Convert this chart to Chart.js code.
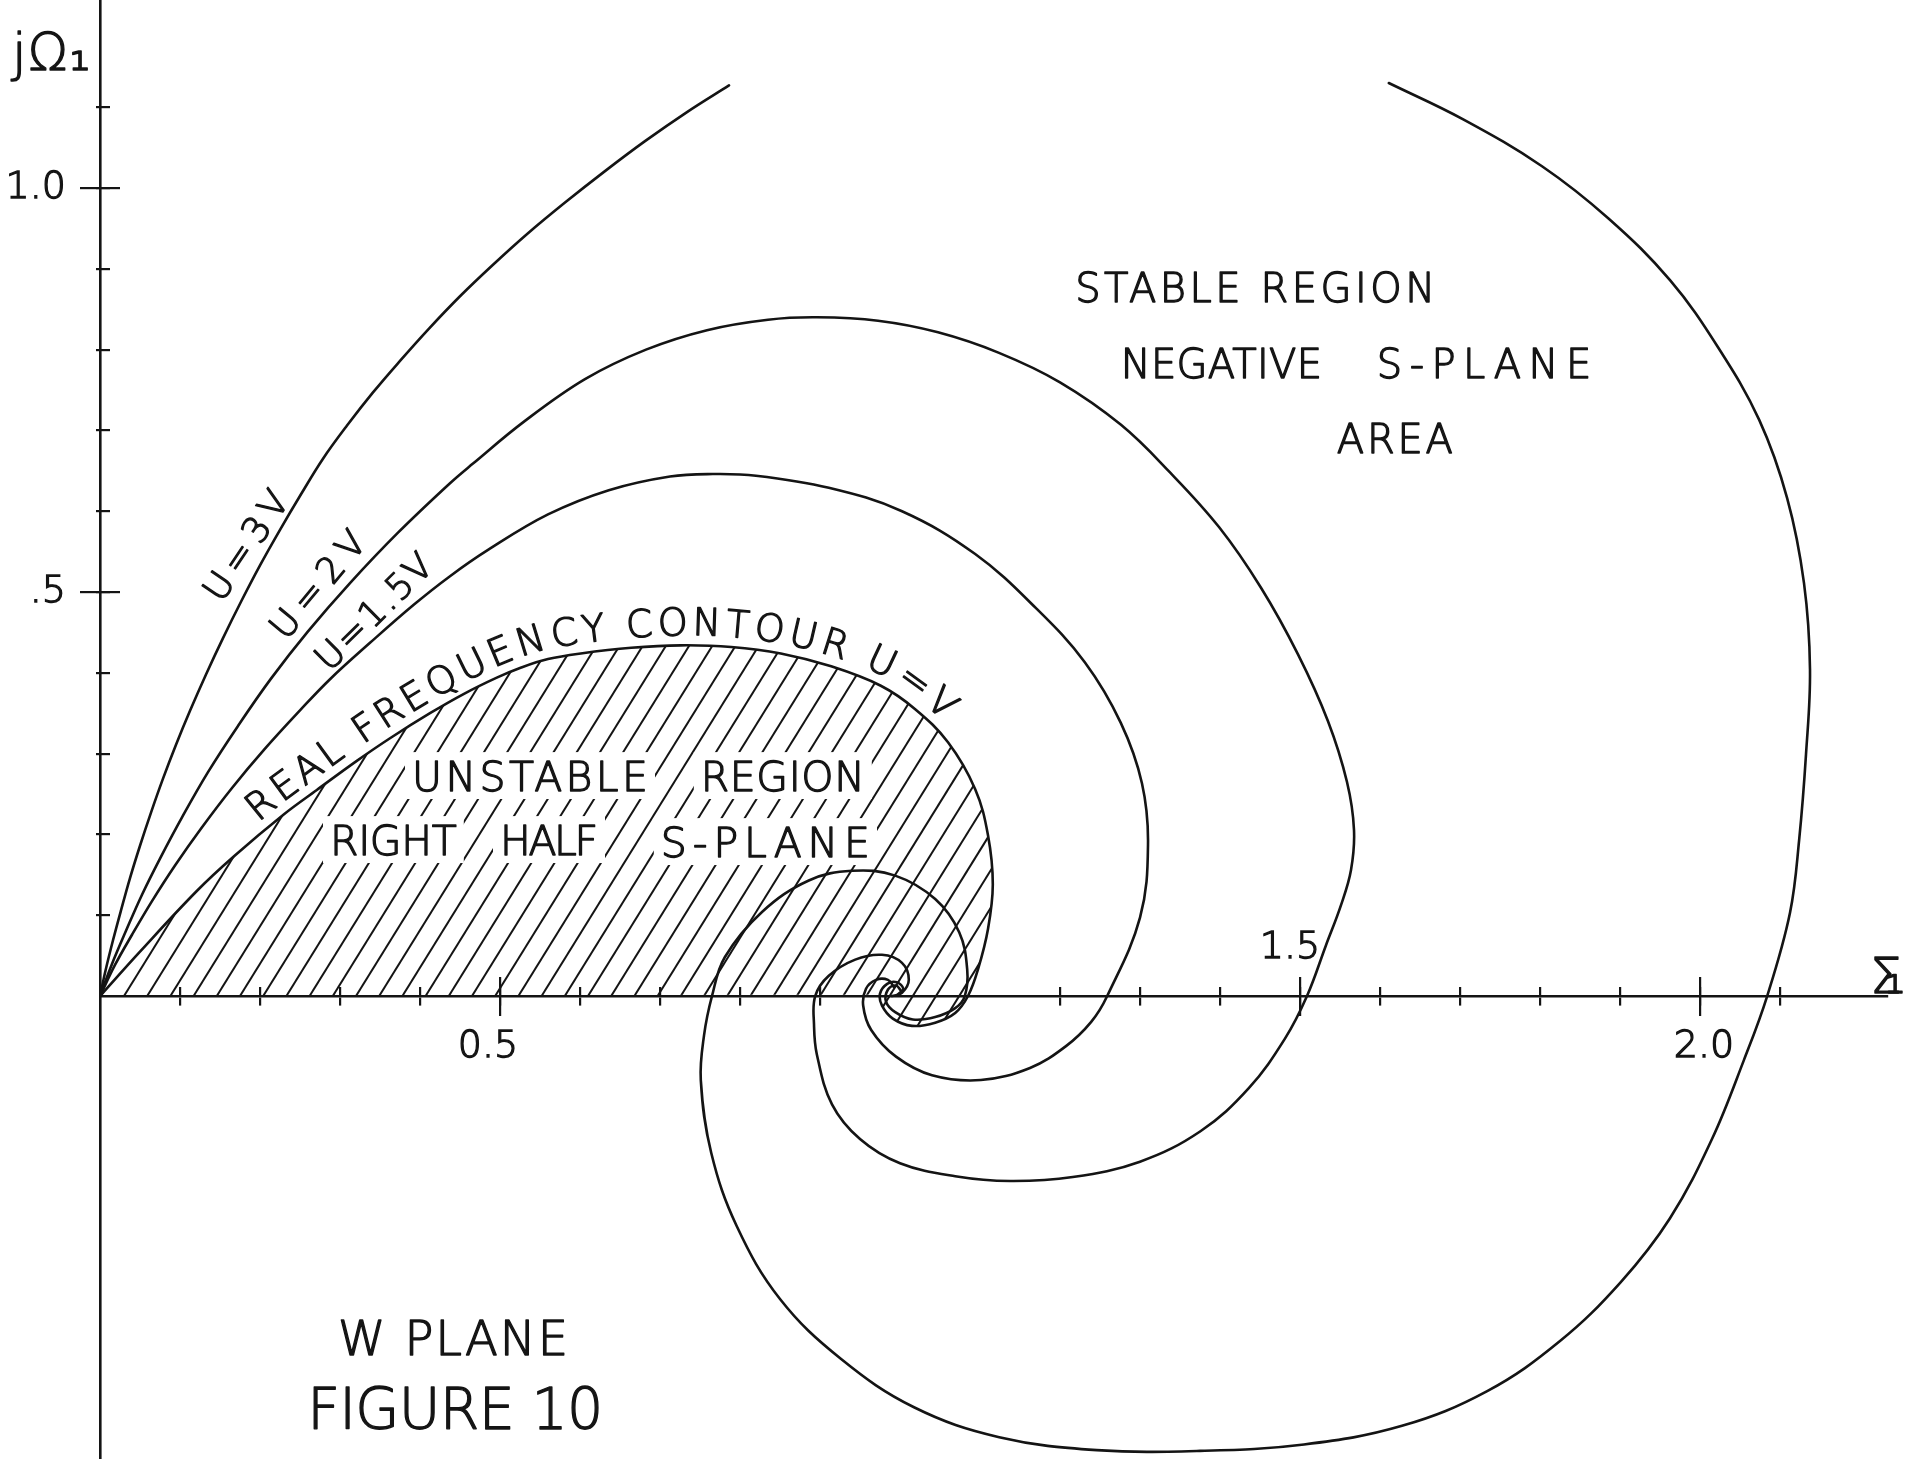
<!DOCTYPE html>
<html lang="en">
<head>
<meta charset="utf-8">
<title>W plane – Figure 10</title>
<script src="https://cdn.jsdelivr.net/npm/chart.js@4.4.1/dist/chart.umd.min.js"></script>
<style>
  html, body { margin: 0; padding: 0; background: #ffffff; }
  #frame { position: relative; width: 1911px; height: 1459px; }
  canvas { display: block; }
</style>
</head>
<body>
<div id="frame"><canvas id="wplane"></canvas></div>
<script>
// ---------------------------------------------------------------
// W plane: constant U/V contours, Σ₁ horizontal, jΩ₁ vertical
// ---------------------------------------------------------------
const INK = '#141414';
const FAMILY = '"DejaVu Sans", "Liberation Sans", Arial, sans-serif';
const WEIGHT = '300';
const PEN = 1.3;          // extra pen width added round the light lettering

// visible extent of the plane
const SIGMA_MIN = 0, SIGMA_MAX = 2.23375;
const OMEGA_MIN = -0.573, OMEGA_MAX = 1.2327;

// axis divisions and tick labels
const SIGMA_MINOR = [0.1, 0.2, 0.3, 0.4, 0.6, 0.7, 0.8, 0.9, 1.2, 1.3, 1.4, 1.6, 1.7, 1.8, 1.9, 2.1];
const SIGMA_MAJOR = [0.5, 1.5, 2.0];
const SIGMA_LABELED_BELOW = [0.5, 2.0];
const SIGMA_LABELED_ABOVE = [1.5];
const OMEGA_MINOR = [0.1, 0.2, 0.3, 0.4, 0.6, 0.7, 0.8, 0.9, 1.1];
const OMEGA_MAJOR = [0.5, 1.0];
const OMEGA_TICK_TEXT = ['.5', '1.0'];

// U = V : real frequency contour
const UV_SIGMA = [0, 0.05, 0.121, 0.1675, 0.23, 0.271, 0.321, 0.3625, 0.4125, 0.455, 0.496, 0.525, 0.56, 0.601, 0.664, 0.726, 0.789, 0.851, 0.914, 0.976, 1.019, 1.06, 1.094, 1.11, 1.116, 1.11, 1.0975, 1.085, 1.069, 1.044, 1.015, 0.991, 0.9775, 0.975, 0.984, 0.996, 1.004, 0.9975];
const UV_OMEGA = [0, 0.055, 0.130, 0.173, 0.225, 0.255, 0.291, 0.319, 0.350, 0.374, 0.394, 0.406, 0.417, 0.424, 0.431, 0.434, 0.432, 0.424, 0.408, 0.384, 0.355, 0.314, 0.256, 0.199, 0.138, 0.083, 0.033, 0, -0.021, -0.033, -0.037, -0.028, -0.012, 0.003, 0.015, 0.017, 0.009, 0.002];

// U = 1.5V
const U15_SIGMA = [0, 0.01875, 0.04, 0.065, 0.09375, 0.1275, 0.165, 0.20625, 0.25, 0.2875, 0.3375, 0.3925, 0.4375, 0.485, 0.56, 0.636, 0.7125, 0.766, 0.82, 0.911, 1.0025, 1.094, 1.17, 1.231, 1.276, 1.3025, 1.31, 1.3, 1.259, 1.239, 1.2075, 1.1625, 1.101, 1.04, 0.995, 0.964, 0.954, 0.9575, 0.97, 0.985, 0.9925];
const U15_OMEGA = [0, 0.0385, 0.0758, 0.1175, 0.1616, 0.2089, 0.2575, 0.3061, 0.3535, 0.3921, 0.4371, 0.4845, 0.5196, 0.5521, 0.596, 0.626, 0.643, 0.646, 0.644, 0.629, 0.600, 0.547, 0.480, 0.413, 0.338, 0.263, 0.187, 0.097, 0, -0.032, -0.062, -0.089, -0.104, -0.098, -0.075, -0.042, -0.012, 0.009, 0.020, 0.020, 0.011];

// U = 2V
const U2_SIGMA = [0, 0.015, 0.0325, 0.0525, 0.075, 0.1025, 0.135, 0.1725, 0.21375, 0.26, 0.3125, 0.3725, 0.4375, 0.46625, 0.53, 0.60625, 0.6825, 0.75875, 0.835, 0.89625, 0.9725, 1.0475, 1.12375, 1.2, 1.27625, 1.3375, 1.39875, 1.45125, 1.4975, 1.535, 1.55875, 1.5675, 1.56375, 1.55125, 1.5325, 1.50875, 1.481, 1.436, 1.376, 1.3, 1.216, 1.1375, 1.069, 1.0, 0.95, 0.915, 0.896, 0.8925, 0.894, 0.911, 0.944, 0.9775, 1.0025, 1.011, 1.0025, 0.99];
const U2_OMEGA = [0, 0.0397, 0.0807, 0.1254, 0.1701, 0.2211, 0.2771, 0.3343, 0.3928, 0.4513, 0.5111, 0.5735, 0.6347, 0.659, 0.7109, 0.7635, 0.800, 0.8241, 0.837, 0.840, 0.8357, 0.8214, 0.796, 0.7595, 0.7069, 0.648, 0.5804, 0.5053, 0.4228, 0.3401, 0.2648, 0.2055, 0.156, 0.1125, 0.0629, 0, -0.053, -0.114, -0.167, -0.205, -0.224, -0.229, -0.223, -0.207, -0.177, -0.134, -0.072, -0.035, 0, 0.025, 0.045, 0.051, 0.041, 0.020, 0.004, 0];

// U = 3V, branch leaving the origin (runs off the top of the sheet)
const U3A_SIGMA = [0, 0.0075, 0.01625, 0.02625, 0.0375, 0.05, 0.06375, 0.07875, 0.095, 0.1125, 0.1325, 0.15375, 0.17625, 0.2, 0.225, 0.25125, 0.27875, 0.30875, 0.34125, 0.375, 0.41125, 0.45, 0.49125, 0.535, 0.58125, 0.63, 0.68125, 0.73375, 0.78625];
const U3A_OMEGA = [0, 0.034, 0.069, 0.106, 0.146, 0.186, 0.227, 0.269, 0.311, 0.353, 0.398, 0.443, 0.488, 0.533, 0.577, 0.621, 0.665, 0.706, 0.747, 0.786, 0.826, 0.866, 0.905, 0.944, 0.982, 1.020, 1.058, 1.094, 1.127];

// U = 3V, branch coming back in from the top and spiralling to the centre
const U3B_SIGMA = [1.611, 1.704, 1.8025, 1.886, 1.9625, 2.0225, 2.074, 2.109, 2.13, 2.1375, 2.1325, 2.124, 2.1125, 2.084, 2.055, 2.015, 1.9625, 1.901, 1.825, 1.734, 1.6275, 1.505, 1.375, 1.246, 1.124, 1.0175, 0.926, 0.85, 0.796, 0.764, 0.751, 0.755, 0.765, 0.781, 0.8275, 0.886, 0.94, 0.994, 1.044, 1.074, 1.084, 1.081, 1.069, 1.044, 1.016, 0.994, 0.9825, 0.985, 0.995, 1.001];
const U3B_OMEGA = [1.130, 1.085, 1.027, 0.962, 0.886, 0.803, 0.713, 0.616, 0.511, 0.404, 0.299, 0.194, 0.103, 0, -0.079, -0.177, -0.275, -0.354, -0.427, -0.489, -0.532, -0.555, -0.563, -0.562, -0.546, -0.509, -0.449, -0.375, -0.285, -0.194, -0.104, -0.049, 0, 0.048, 0.104, 0.143, 0.155, 0.149, 0.120, 0.079, 0.033, 0, -0.015, -0.026, -0.029, -0.020, -0.007, 0.008, 0.013, 0.007];

// lettering, anchored in plane coordinates (from / to along Σ, baseline in Ω)
const LETTERING = [
  {text: 'STABLE REGION', from: 1.219, to: 1.669, base: 0.859, size: 40},
  {text: 'NEGATIVE', from: 1.276, to: 1.5275, base: 0.765, size: 40},
  {text: 'S-PLANE', from: 1.596, to: 1.864, base: 0.765, size: 40},
  {text: 'AREA', from: 1.546, to: 1.691, base: 0.672, size: 40},
  {text: 'UNSTABLE', from: 0.39, to: 0.685, base: 0.2537, size: 41, knockout: true},
  {text: 'REGION', from: 0.751, to: 0.956, base: 0.2537, size: 41, knockout: true},
  {text: 'RIGHT', from: 0.2875, to: 0.446, base: 0.1745, size: 41, knockout: true},
  {text: 'HALF', from: 0.5, to: 0.6225, base: 0.1745, size: 41, knockout: true},
  {text: 'S-PLANE', from: 0.701, to: 0.9625, base: 0.172, size: 41, knockout: true},
  {text: 'W PLANE', from: 0.2975, to: 0.585, base: -0.4443, size: 48},
  {text: 'FIGURE 10', from: 0.259, to: 0.629, base: -0.5359, size: 57}
];
// contour tags written along their curves (centre point, angle in degrees, length in px)
const CURVE_TAGS = [
  {text: 'U=3V', at: [0.18125, 0.5582], angle: -56.2, length: 124, size: 36},
  {text: 'U=2V', at: [0.27125, 0.5099], angle: -50.1, length: 128, size: 36},
  {text: 'U=1.5V', at: [0.34125, 0.4765], angle: -44.7, length: 149, size: 36}
];
const CONTOUR_TITLE = {text: 'REAL FREQUENCY CONTOUR U=V', from: 0.2025, to: 1.044, offset: 10, size: 38};
const AXIS_TITLES = [
  {text: 'jΩ₁', from: -0.11, to: -0.0125, base: 1.146, size: 52},
  {text: 'Σ₁', from: 2.2125, to: 2.256, base: 0.0037, size: 50}
];

const HATCH = {phase: 0.03, gap: 23.2, run: 0.62, width: 2};
const AXIS_WIDTH = 2.6, TICK_WIDTH = 2.2;

// ---------------------------------------------------------------
const points = (s, w) => s.map((x, i) => ({x, y: w[i]}));
const contour = (label, data) => ({
  label, data, xAxisID: 'x', yAxisID: 'y',
  borderColor: INK, borderWidth: 2.6, borderJoinStyle: 'round', borderCapStyle: 'round',
  pointRadius: 0, pointHoverRadius: 0, tension: 0.38, fill: false
});

function flatten(scale, dim, size) {
  scale[dim] = size;
  scale.paddingLeft = scale.paddingRight = scale.paddingTop = scale.paddingBottom = 0;
}

const tickFont = {family: FAMILY, size: 38, weight: WEIGHT};

function sigmaScale({ticks, len = 0, labels = null, pad = 0, shift = 0, border = false}) {
  return {
    type: 'linear', axis: 'x', position: {y: 0}, min: SIGMA_MIN, max: SIGMA_MAX,
    afterBuildTicks: s => { s.ticks = ticks.map(value => ({value})); },
    afterFit: s => flatten(s, 'height', 0),
    border: {display: border, color: INK, width: AXIS_WIDTH},
    grid: {display: len !== 0, drawOnChartArea: false, drawTicks: len !== 0, tickLength: len,
           color: INK, tickColor: INK, tickWidth: TICK_WIDTH, lineWidth: TICK_WIDTH},
    ticks: {display: !!labels, autoSkip: false, maxRotation: 0, minRotation: 0, padding: pad, labelOffset: shift,
            color: INK, textStrokeColor: INK, textStrokeWidth: PEN, font: tickFont,
            callback: (v, i) => (labels ? labels[i] : '')}
  };
}

function omegaScale({ticks, len = 0, position = {x: 0}, labels = null, pad = 0, border = false}) {
  return {
    type: 'linear', axis: 'y', position, min: OMEGA_MIN, max: OMEGA_MAX,
    afterBuildTicks: s => { s.ticks = ticks.map(value => ({value})); },
    afterFit: s => flatten(s, 'width', position === 'left' ? 100 : 0),
    border: {display: border, color: INK, width: AXIS_WIDTH},
    grid: {display: len !== 0, drawOnChartArea: false, drawTicks: len !== 0, tickLength: len,
           color: INK, tickColor: INK, tickWidth: TICK_WIDTH, lineWidth: TICK_WIDTH},
    ticks: {display: !!labels, autoSkip: false, padding: pad, crossAlign: 'near',
            color: INK, textStrokeColor: INK, textStrokeWidth: PEN, font: tickFont,
            callback: (v, i) => (labels ? labels[i] : '')}
  };
}

// dense polyline following the drawn (bezier) contour
function tracePoints(els, steps) {
  const out = [{x: els[0].x, y: els[0].y}];
  for (let i = 1; i < els.length; i++) {
    const a = els[i - 1], b = els[i];
    const c1x = a.cp2x ?? a.x, c1y = a.cp2y ?? a.y, c2x = b.cp1x ?? b.x, c2y = b.cp1y ?? b.y;
    for (let k = 1; k <= steps; k++) {
      const t = k / steps, u = 1 - t;
      out.push({
        x: u * u * u * a.x + 3 * u * u * t * c1x + 3 * u * t * t * c2x + t * t * t * b.x,
        y: u * u * u * a.y + 3 * u * u * t * c1y + 3 * u * t * t * c2y + t * t * t * b.y
      });
    }
  }
  return out;
}

function contourPath(chart) {
  const meta = chart.getDatasetMeta(0);
  if (meta.dataset && meta.dataset.updateControlPoints) meta.dataset.updateControlPoints(chart.chartArea, 'x');
  return tracePoints(meta.data, 16);
}

const canSpace = 'letterSpacing' in CanvasRenderingContext2D.prototype;
const fontOf = size => `${WEIGHT} ${size}px ${FAMILY}`;

function pen(ctx) {
  ctx.strokeStyle = INK;
  ctx.lineWidth = PEN;
  ctx.lineJoin = 'round';
}

function spacedText(ctx, text, x0, x1, base, size) {
  ctx.font = fontOf(size);
  ctx.textAlign = 'left';
  ctx.textBaseline = 'alphabetic';
  pen(ctx);
  const chars = Array.from(text);
  if (canSpace) ctx.letterSpacing = '0px';
  const w0 = ctx.measureText(text).width;
  const gap = chars.length > 1 ? (x1 - x0 - w0) / (chars.length - 1) : 0;
  if (canSpace) {
    ctx.letterSpacing = gap.toFixed(2) + 'px';
    ctx.strokeText(text, x0, base);
    ctx.fillText(text, x0, base);
    ctx.letterSpacing = '0px';
  } else {
    let x = x0;
    for (const c of chars) {
      ctx.strokeText(c, x, base);
      ctx.fillText(c, x, base);
      x += ctx.measureText(c).width + gap;
    }
  }
}

function wordBox(chart, w) {
  const {x, y} = chart.scales;
  const base = y.getPixelForValue(w.base);
  const cap = 0.73 * w.size;
  return {x0: x.getPixelForValue(w.from) - 7, x1: x.getPixelForValue(w.to) + 7, y0: base - cap - 9, y1: base + 8};
}

function pointAt(path, cum, s) {
  let i = 1;
  while (i < cum.length - 1 && cum[i] < s) i++;
  const a = path[i - 1], b = path[i];
  const t = (s - cum[i - 1]) / ((cum[i] - cum[i - 1]) || 1);
  return {x: a.x + (b.x - a.x) * t, y: a.y + (b.y - a.y) * t};
}

function textAlong(chart, path, spec) {
  const {ctx, scales: {x}} = chart;
  const cum = [0];
  for (let i = 1; i < path.length; i++) {
    cum.push(cum[i - 1] + Math.hypot(path[i].x - path[i - 1].x, path[i].y - path[i - 1].y));
  }
  const arcAt = px => cum[Math.max(0, path.findIndex(p => p.x >= px))];
  const s0 = arcAt(x.getPixelForValue(spec.from));
  const s1 = arcAt(x.getPixelForValue(spec.to));
  ctx.font = fontOf(spec.size);
  pen(ctx);
  if (canSpace) ctx.letterSpacing = '0px';
  const chars = Array.from(spec.text);
  const widths = chars.map(c => ctx.measureText(c).width);
  const total = widths.reduce((a, b) => a + b, 0);
  const gap = (s1 - s0 - total) / (chars.length - 1);
  let s = s0;
  chars.forEach((c, i) => {
    const mid = s + widths[i] / 2;
    const p = pointAt(path, cum, mid);
    const pa = pointAt(path, cum, mid - 8), pb = pointAt(path, cum, mid + 8);
    const ang = Math.atan2(pb.y - pa.y, pb.x - pa.x);
    ctx.save();
    ctx.translate(p.x + spec.offset * Math.sin(ang), p.y - spec.offset * Math.cos(ang));
    ctx.rotate(ang);
    ctx.textAlign = 'center';
    ctx.textBaseline = 'alphabetic';
    ctx.strokeText(c, 0, 0);
    ctx.fillText(c, 0, 0);
    ctx.restore();
    s += widths[i] + gap;
  });
}

// hatching of the region enclosed by the U = V contour and the Σ axis
const hatchPlugin = {
  id: 'unstableHatch',
  beforeDatasetsDraw(chart) {
    const {ctx, chartArea: area, scales: {x, y}} = chart;
    const path = contourPath(chart);
    chart.$contourPath = path;
    const y0 = y.getPixelForValue(0);
    ctx.save();
    ctx.beginPath();
    path.forEach((p, i) => (i ? ctx.lineTo(p.x, p.y) : ctx.moveTo(p.x, p.y)));
    ctx.lineTo(x.getPixelForValue(0), y0);
    ctx.closePath();
    ctx.clip();
    ctx.strokeStyle = INK;
    ctx.lineWidth = HATCH.width;
    const xStart = x.getPixelForValue(HATCH.phase);
    for (let k = -50; k < 70; k++) {
      const xa = xStart + k * HATCH.gap;
      ctx.beginPath();
      ctx.moveTo(xa - (area.bottom - y0) * HATCH.run, area.bottom);
      ctx.lineTo(xa + (y0 - area.top) * HATCH.run, area.top);
      ctx.stroke();
    }
    ctx.fillStyle = '#ffffff';
    LETTERING.filter(w => w.knockout).forEach(w => {
      const b = wordBox(chart, w);
      ctx.fillRect(b.x0, b.y0, b.x1 - b.x0, b.y1 - b.y0);
    });
    ctx.restore();
  }
};

const letteringPlugin = {
  id: 'lettering',
  afterDatasetsDraw(chart) {
    const {ctx, scales: {x, y}} = chart;
    ctx.save();
    ctx.fillStyle = INK;
    LETTERING.concat(AXIS_TITLES).forEach(w => {
      spacedText(ctx, w.text, x.getPixelForValue(w.from), x.getPixelForValue(w.to), y.getPixelForValue(w.base), w.size);
    });
    CURVE_TAGS.forEach(t => {
      ctx.save();
      ctx.translate(x.getPixelForValue(t.at[0]), y.getPixelForValue(t.at[1]));
      ctx.rotate(t.angle * Math.PI / 180);
      spacedText(ctx, t.text, -t.length / 2, t.length / 2, 0.73 * t.size / 2, t.size);
      ctx.restore();
    });
    textAlong(chart, chart.$contourPath || contourPath(chart), CONTOUR_TITLE);
    ctx.restore();
  }
};

new Chart(document.getElementById('wplane'), {
  type: 'line',
  data: {
    datasets: [
      contour('U=V', points(UV_SIGMA, UV_OMEGA)),
      contour('U=1.5V', points(U15_SIGMA, U15_OMEGA)),
      contour('U=2V', points(U2_SIGMA, U2_OMEGA)),
      contour('U=3V', points(U3A_SIGMA, U3A_OMEGA)),
      contour('U=3V', points(U3B_SIGMA, U3B_OMEGA))
    ]
  },
  options: {
    responsive: true,
    maintainAspectRatio: false,
    animation: false,
    events: [],
    layout: {padding: {left: 0, right: 24, top: 0, bottom: 0}},
    plugins: {legend: {display: false}, tooltip: {enabled: false}},
    scales: {
      x: sigmaScale({ticks: SIGMA_MINOR.concat(SIGMA_MAJOR), len: 8, border: true}),
      xUp: sigmaScale({ticks: SIGMA_MINOR.concat(SIGMA_MAJOR), len: -9}),
      xMajorDown: sigmaScale({ticks: SIGMA_MAJOR, len: 20}),
      xMajorUp: sigmaScale({ticks: SIGMA_MAJOR, len: -19}),
      xLabel05: sigmaScale({ticks: [SIGMA_LABELED_BELOW[0]], labels: [SIGMA_LABELED_BELOW[0].toFixed(1)], pad: 28, shift: -12}),
      xLabel20: sigmaScale({ticks: [SIGMA_LABELED_BELOW[1]], labels: [SIGMA_LABELED_BELOW[1].toFixed(1)], pad: 28, shift: 4}),
      xLabel15: sigmaScale({ticks: SIGMA_LABELED_ABOVE, labels: SIGMA_LABELED_ABOVE.map(v => v.toFixed(1)), pad: -71, shift: -10}),
      y: omegaScale({ticks: OMEGA_MAJOR, len: 20, position: 'left', labels: OMEGA_TICK_TEXT, pad: 14, border: true}),
      yMinorLeft: omegaScale({ticks: OMEGA_MINOR.concat(OMEGA_MAJOR), len: 4}),
      yMinorRight: omegaScale({ticks: OMEGA_MINOR.concat(OMEGA_MAJOR), len: -10}),
      yMajorRight: omegaScale({ticks: OMEGA_MAJOR, len: -20})
    }
  },
  plugins: [hatchPlugin, letteringPlugin]
});
</script>
</body>
</html>
